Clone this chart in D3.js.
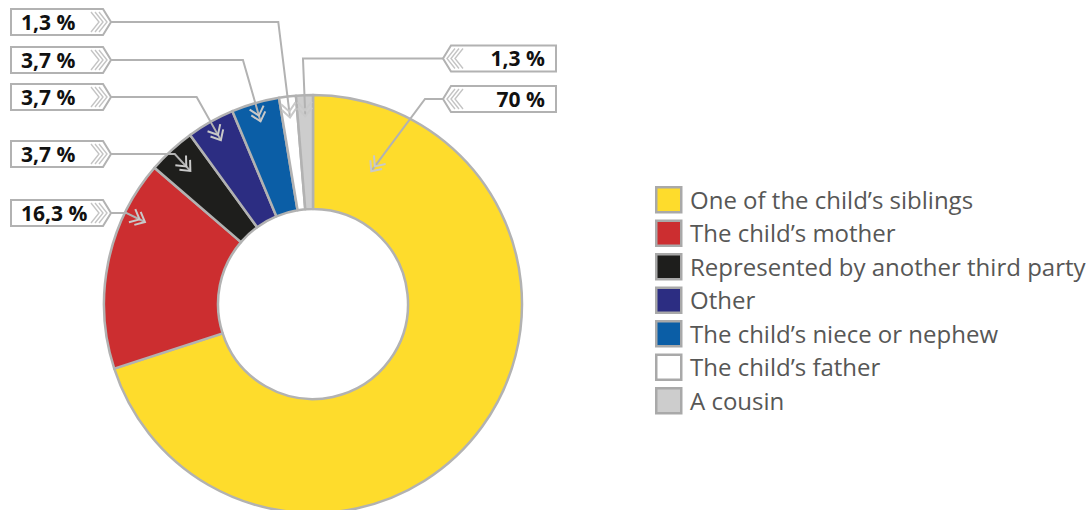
<!DOCTYPE html>
<html>
<head>
<meta charset="utf-8">
<script src="https://cdn.jsdelivr.net/npm/d3@7"></script>
<style>
  html, body { margin: 0; padding: 0; background: #fff; }
  svg { display: block; font-family: "Open Sans", sans-serif; }
</style>
</head>
<body>
<svg id="chart" width="1090" height="510"></svg>
<script>
// Who represented the child — share of cases (%)
const categories = [
  "One of the child\u2019s siblings",
  "The child\u2019s mother",
  "Represented by another third party",
  "Other",
  "The child\u2019s niece or nephew",
  "The child\u2019s father",
  "A cousin"
];
const values = [70, 16.3, 3.7, 3.7, 3.7, 1.3, 1.3];
const valueLabels = ["70 %", "16,3 %", "3,7 %", "3,7 %", "3,7 %", "1,3 %", "1,3 %"];
const colors = ["#FEDC2C", "#CC2E30", "#1E1E1C", "#2C2D82", "#0B5EA6", "#FFFFFF", "#CDCDCD"];

// Callout layout: which box each slice's label sits in, and where its arrow lands inside the slice
const callouts = [
  { i: 5, side: "left",  boxY: 22,  frac: 0.5,   r: 188 },
  { i: 4, side: "left",  boxY: 60,  frac: 0.5,   r: 190 },
  { i: 3, side: "left",  boxY: 97,  frac: 0.5,   r: 188 },
  { i: 2, side: "left",  boxY: 154, frac: 0.5,   r: 181 },
  { i: 1, side: "left",  boxY: 213, frac: 0.75,  r: 187 },
  { i: 6, side: "right", boxY: 58.5, frac: 0.5,  r: 188 },
  { i: 0, side: "right", boxY: 99,  frac: 0.094, r: 145, elbowX: 425 }
];

const svg = d3.select("#chart");
const cx = 313, cy = 304;
const outerR = 209, innerR = 95;
const strokeGrey = "#B2B2B2";

const pie = d3.pie().sort(null).value(d => d)
  .startAngle(0).endAngle(2 * Math.PI);
const arcs = pie(values);
const arc = d3.arc().innerRadius(innerR).outerRadius(outerR);

const g = svg.append("g").attr("transform", `translate(${cx},${cy})`);
g.selectAll("path.slice")
  .data(arcs)
  .join("path")
  .attr("class", "slice")
  .attr("d", arc)
  .attr("fill", (d, i) => colors[i])
  .attr("stroke", strokeGrey)
  .attr("stroke-width", 2.5)
  .attr("stroke-linejoin", "round");

// point on the ring at angle a (clockwise from 12 o'clock), radius r
const polar = (a, r) => [cx + r * Math.sin(a), cy - r * Math.cos(a)];

const boxH = 26;
const leftBox = { x0: 11, xr: 103, xt: 111 };
const rightBox = { xt: 443, xl: 451, x1: 556 };

const ann = svg.append("g");

callouts.forEach(c => {
  const d = arcs[c.i];
  const a = d.startAngle + c.frac * (d.endAngle - d.startAngle);
  const tip = polar(a, c.r);
  const y = c.boxY;
  const y0 = y - boxH / 2, y1 = y + boxH / 2;

  // elbow: where the leader leaves the horizontal run; default follows the radial direction
  let elbowX = c.elbowX;
  if (elbowX === undefined) {
    const dx = Math.sin(a), dy = -Math.cos(a);
    elbowX = tip[0] + (y - tip[1]) * dx / dy;
  }
  const startX = c.side === "left" ? leftBox.xt : rightBox.xt;

  // leader line
  ann.append("path")
    .attr("d", `M${startX},${y} H${elbowX} L${tip[0]},${tip[1]}`)
    .attr("fill", "none")
    .attr("stroke", strokeGrey)
    .attr("stroke-width", 2);

  // double chevron arrowhead at the slice end
  let ux = tip[0] - elbowX, uy = tip[1] - y;
  const len = Math.hypot(ux, uy); ux /= len; uy /= len;
  const arm = 11, spread = 0.72;
  [0, 6].forEach(off => {
    const px = tip[0] - ux * off, py = tip[1] - uy * off;
    const ca = Math.cos(spread), sa = Math.sin(spread);
    const l = [px - arm * (ux * ca - uy * sa), py - arm * (uy * ca + ux * sa)];
    const r = [px - arm * (ux * ca + uy * sa), py - arm * (uy * ca - ux * sa)];
    ann.append("path")
      .attr("d", `M${l[0]},${l[1]} L${px},${py} L${r[0]},${r[1]}`)
      .attr("fill", "none")
      .attr("stroke", "#C9C9C9")
      .attr("stroke-width", 2)
      .attr("stroke-linejoin", "miter");
  });

  // label box with fletched end
  let boxPath, fletch = [], tx, anchor;
  if (c.side === "left") {
    const b = leftBox;
    boxPath = `M${b.x0},${y0} H${b.xr} L${b.xt},${y} L${b.xr},${y1} H${b.x0} Z`;
    [12, 8, 4].forEach(o => {
      const fx = b.xt - o;
      fletch.push(`M${fx - 8},${y0 + 3} L${fx},${y} L${fx - 8},${y1 - 3}`);
    });
    tx = b.x0 + 10; anchor = "start";
  } else {
    const b = rightBox;
    boxPath = `M${b.x1},${y0} H${b.xl} L${b.xt},${y} L${b.xl},${y1} H${b.x1} Z`;
    [4, 8, 12].forEach(o => {
      const fx = b.xt + o;
      fletch.push(`M${fx + 8},${y0 + 3} L${fx},${y} L${fx + 8},${y1 - 3}`);
    });
    tx = b.x1 - 11; anchor = "end";
  }
  ann.append("path")
    .attr("d", boxPath)
    .attr("fill", "#fff")
    .attr("stroke", strokeGrey)
    .attr("stroke-width", 2);
  fletch.forEach(p => ann.append("path")
    .attr("d", p)
    .attr("fill", "none")
    .attr("stroke", "#C4C4C4")
    .attr("stroke-width", 1.4));
  ann.append("text")
    .attr("x", tx)
    .attr("y", y + 7.5)
    .attr("text-anchor", anchor)
    .attr("font-size", 21)
    .attr("font-weight", 700)
    .attr("fill", "#111")
    .text(valueLabels[c.i]);
});

// legend
const legend = svg.append("g").attr("transform", "translate(655,186)");
const rowH = 33.5;
const items = legend.selectAll("g.item")
  .data(categories)
  .join("g")
  .attr("class", "item")
  .attr("transform", (d, i) => `translate(0,${i * rowH})`);
items.append("rect")
  .attr("x", 1.25).attr("y", 1.25)
  .attr("width", 25).attr("height", 25)
  .attr("fill", (d, i) => colors[i])
  .attr("stroke", "#A9A9A9")
  .attr("stroke-width", 2.5);
items.append("text")
  .attr("x", 35)
  .attr("y", 22.5)
  .attr("font-size", 24)
  .attr("fill", "#575756")
  .text(d => d);
</script>
</body>
</html>
